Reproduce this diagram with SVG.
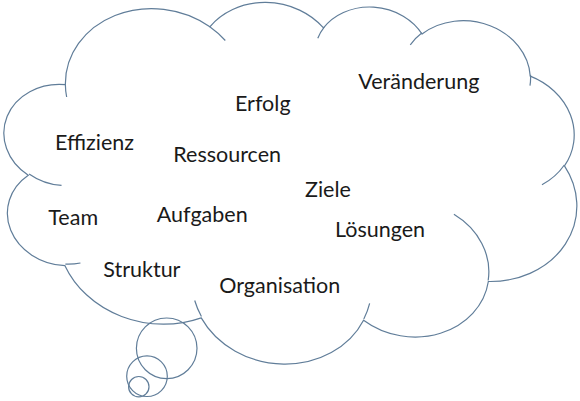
<svg xmlns="http://www.w3.org/2000/svg" width="580" height="401" viewBox="0 0 580 401">
  <style>
    .ol { fill: none; stroke: #607d99; stroke-width: 1.2; }
    .bg { fill: #ffffff; stroke: #607d99; stroke-width: 1.2; }
    .w { font-family: Lato, "Liberation Sans", sans-serif; font-size: 21.5px; fill: #1a1a1a; }
  </style>
  <rect width="580" height="401" fill="#ffffff"/>
  <g id="cloud" transform="translate(290.2 179.1) rotate(8.2) translate(-288 -183.5)">
    <path class="bg" d="M 52.00 122.08 A 90.04 78.07 0 0 1 186.74 44.20 A 71.11 61.74 0 0 1 299.41 29.15 A 58.20 50.50 0 0 1 397.79 21.09 A 64.76 56.03 0 0 1 510.93 47.38 A 71.11 61.79 0 0 1 557.60 131.35 A 90.33 78.33 0 0 1 498.73 256.58 A 77.13 66.83 0 0 1 380.74 312.73 A 90.03 78.29 0 0 1 219.74 333.57 A 102.93 89.57 0 0 1 77.39 301.32 A 58.13 50.28 0 0 1 28.18 217.02 A 57.93 50.50 0 0 1 52.00 122.08 Z"/>
    <path class="ol" d="M 62.57 222.38 A 57.93 50.50 0 0 1 28.81 215.61 M 92.37 296.48 A 58.13 50.28 0 0 1 77.59 299.72 M 219.71 332.09 A 90.03 78.29 0 0 1 210.80 317.29 M 384.36 295.22 A 90.03 78.29 0 0 1 380.81 311.43 M 455.05 195.00 A 77.13 66.83 0 0 1 498.41 255.62 M 557.31 130.44 A 71.11 61.79 0 0 1 537.99 153.18 M 510.99 46.10 A 64.76 56.03 0 0 1 512.01 56.83 M 387.71 33.57 A 64.76 56.03 0 0 1 397.59 19.88 M 295.21 40.10 A 58.20 50.50 0 0 1 300.00 28.29 M 186.67 44.11 A 90.04 78.07 0 0 1 203.99 55.56 M 55.03 134.13 A 90.04 78.07 0 0 1 52.00 122.08"/>
  </g>
  <g id="bubbles">
    <circle class="ol" cx="166.7" cy="348.3" r="30.3"/>
    <circle class="ol" cx="147" cy="376.2" r="20.3"/>
    <circle class="ol" cx="138.8" cy="386.7" r="10.2"/>
  </g>
  <g id="connectors"/>
  <g id="w-veraenderung"><text class="w" x="358.3" y="88.5">Veränderung</text></g>
  <g id="w-erfolg"><text class="w" x="235" y="110.5">Erfolg</text></g>
  <g id="w-effizienz"><text class="w" x="55" y="150">Effizienz</text></g>
  <g id="w-ressourcen"><text class="w" x="173.3" y="162.3">Ressourcen</text></g>
  <g id="w-ziele"><text class="w" x="305" y="196.7">Ziele</text></g>
  <g id="w-team"><text class="w" x="48.3" y="225">Team</text></g>
  <g id="w-aufgaben"><text class="w" x="156.7" y="221.7">Aufgaben</text></g>
  <g id="w-loesungen"><text class="w" x="335" y="236.7">Lösungen</text></g>
  <g id="w-struktur"><text class="w" x="103.3" y="276.7">Struktur</text></g>
  <g id="w-organisation"><text class="w" x="219.3" y="293.3">Organisation</text></g>
</svg>
